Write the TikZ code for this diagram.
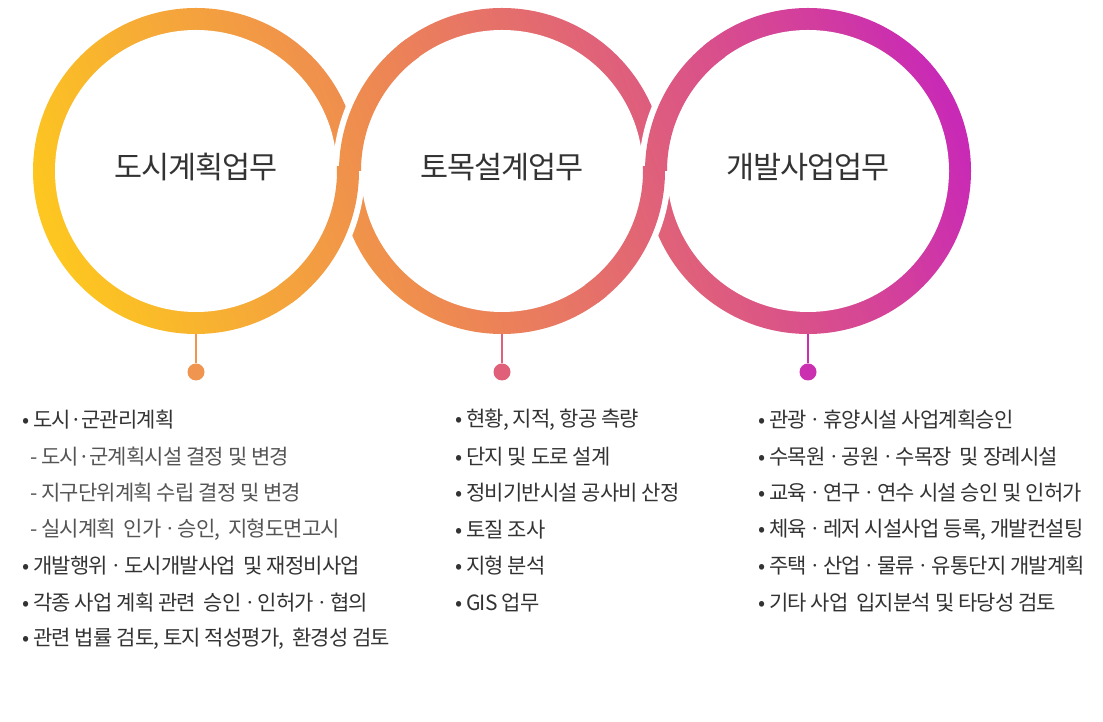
\documentclass[tikz,border=0pt]{standalone}
\usepackage{fontspec}
\newfontfamily\kor[LetterSpace=-4]{Noto Sans CJK KR}

\definecolor{gradA}{HTML}{FDC620}
\definecolor{gradB}{HTML}{EC8258}
\definecolor{gradC}{HTML}{D23D9E}
\definecolor{gradD}{HTML}{C92AB5}
\definecolor{dotA}{HTML}{EF9550}
\definecolor{dotB}{HTML}{E0607A}
\definecolor{dotC}{HTML}{CB30B0}
\definecolor{textdark}{HTML}{333333}
\definecolor{textsub}{HTML}{555555}

\pgfdeclarehorizontalshading{ringgrad}{100bp}{color(0bp)=(gradA); color(30.4bp)=(gradA); color(47.9bp)=(gradB); color(66.1bp)=(gradC); color(70.5bp)=(gradD); color(100bp)=(gradD)}

\tikzset{
  heading/.style={font=\kor\fontsize{30.5}{34}\selectfont, text=textdark},
  item/.style={anchor=west, inner sep=0pt, font=\kor\fontsize{21}{24}\selectfont, text=textdark},
  subitem/.style={item, text=textsub},
  bead/.style={circle, inner sep=0pt, minimum size=17pt},
  stem/.style={line width=1.3pt},
  gapline/.style={white, line width=34pt}
}

\newcommand{\ringpaint}{\shade[shading=ringgrad, transform canvas={rotate=20}] (100,-400) rectangle (1200,800);}
\newcommand{\bandpiece}[3]{%
  \begin{scope}
    \clip ([shift={(#2:163)}]#1) arc[start angle=#2, end angle=#3, radius=163]
      -- ([shift={(#3:141)}]#1) arc[start angle=#3, end angle=#2, radius=141] -- cycle;
    \ringpaint
  \end{scope}}
\newcommand{\md}{\kern-1.5ptㆍ\kern-1.5pt}

\begin{document}
\begin{tikzpicture}[x=1pt, y=1pt]
  \useasboundingbox (0,0) rectangle (1103,722);
  \coordinate (c1) at (196,551);
  \coordinate (c2) at (502,551);
  \coordinate (c3) at (808,551);

  \foreach \c in {c1,c2,c3}{
    \begin{scope}
      \clip (\c) circle (163);
      \ringpaint
    \end{scope}
    \fill[white] (\c) circle (141);
  }
  \foreach \c/\a/\b/\s/\e in {c2/130/180/126/180, c1/-50/0/-54/2, c3/130/180/126/180, c2/-50/0/-54/2}{
    \draw[gapline] ([shift={(\a:152)}]\c) arc[start angle=\a, end angle=\b, radius=152];
    \bandpiece{\c}{\s}{\e}
  }

  \node[heading] (t1) at (196,555) {도시계획업무};
  \node[heading] (t2) at (502,555) {토목설계업무};
  \node[heading] (t3) at (808,555) {개발사업업무};

  \coordinate (b1) at (196,388);
  \coordinate (b2) at (502,388);
  \coordinate (b3) at (808,388);
  \node[bead, fill=dotA] (d1) at (196,350) {};
  \node[bead, fill=dotB] (d2) at (502,350) {};
  \node[bead, fill=dotC] (d3) at (808,350) {};
  \draw[stem, dotA] (b1) -- (d1);
  \draw[stem, dotB] (b2) -- (d2);
  \draw[stem, dotC] (b3) -- (d3);

  \node[item] (a1) at (22,302) {• 도시·군관리계획};
  \node[subitem] (a2) at (30,265.5) {- 도시·군계획시설 결정 및 변경};
  \node[subitem] (a3) at (30,229) {- 지구단위계획 수립 결정 및 변경};
  \node[subitem] (a4) at (30,192.5) {- 실시계획\ \ 인가\md 승인,\ \ 지형도면고시};
  \node[item] (a5) at (22,156) {• 개발행위\md 도시개발사업\ \ 및 재정비사업};
  \node[item] (a6) at (22,119.5) {• 각종 사업 계획 관련\ \ 승인\md 인허가\md 협의};
  \node[item] (a7) at (22,83) {• 관련 법률 검토, 토지 적성평가,\ \ 환경성 검토};

  \node[item] (m1) at (455,302) {• 현황, 지적, 항공 측량};
  \node[item] (m2) at (455,265.5) {• 단지 및 도로 설계};
  \node[item] (m3) at (455,229) {• 정비기반시설 공사비 산정};
  \node[item] (m4) at (455,192.5) {• 토질 조사};
  \node[item] (m5) at (455,156) {• 지형 분석};
  \node[item] (m6) at (455,119.5) {• GIS 업무};

  \node[item] (r1) at (758,302) {• 관광\md 휴양시설 사업계획승인};
  \node[item] (r2) at (758,265.5) {• 수목원\md 공원\md 수목장\ \ 및 장례시설};
  \node[item] (r3) at (758,229) {• 교육\md 연구\md 연수 시설 승인 및 인허가};
  \node[item] (r4) at (758,192.5) {• 체육\md 레저 시설사업 등록, 개발컨설팅};
  \node[item] (r5) at (758,156) {• 주택\md 산업\md 물류\md 유통단지 개발계획};
  \node[item] (r6) at (758,119.5) {• 기타 사업\ \ 입지분석 및 타당성 검토};
\end{tikzpicture}
\end{document}
